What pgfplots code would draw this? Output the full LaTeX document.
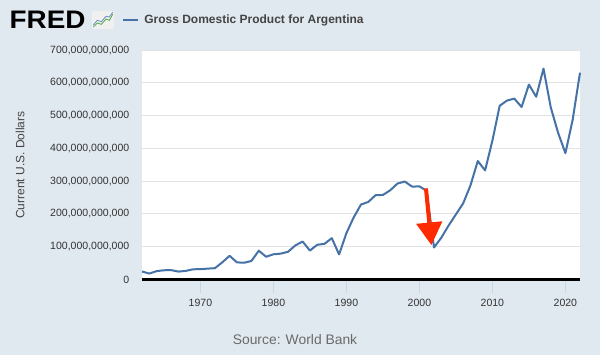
\documentclass[border=0pt]{standalone}
\usepackage{fontspec}
\setmainfont{Liberation Sans}
\usepackage{pgfplots}
\pgfplotsset{compat=1.18}
\usetikzlibrary{arrows.meta}
\definecolor{bgc}{HTML}{E1E9F0}
\definecolor{fredblue}{HTML}{4572A7}
\definecolor{gridc}{HTML}{E3E3E3}
\definecolor{ticklb}{HTML}{C8D6E6}
\definecolor{tickgray}{HTML}{333333}
\definecolor{titlegray}{HTML}{444444}
\definecolor{srcgray}{HTML}{6A6A6A}
\definecolor{arrowred}{HTML}{FF2A00}
\begin{document}
\begin{tikzpicture}
\useasboundingbox (0,0) rectangle (450pt,266.25pt);
\fill[bgc] (0,0) rectangle (450pt,266.25pt);
% FRED logo
\node[anchor=west, inner sep=0pt, xscale=1.1] at (7pt,251.25pt) {\fontsize{19}{19}\selectfont\bfseries FRED};
\fill[white!88!gray, rounded corners=1.5pt] (69pt,244.5pt) rectangle (85.5pt,258pt);
\draw[green!50!black!70, line width=0.6pt] (70pt,246pt) -- (73pt,249pt) -- (76pt,248pt) -- (79.5pt,252pt) -- (82pt,251pt) -- (84.5pt,255.5pt);
\draw[fredblue!80, line width=0.6pt] (70pt,247.5pt) -- (73pt,251pt) -- (76pt,250pt) -- (79.5pt,254pt) -- (82pt,253.5pt) -- (84.5pt,257pt);
% legend
\draw[fredblue, line width=1.5pt] (92.25pt,251.25pt) -- (103.5pt,251.25pt);
\node[anchor=west, inner sep=0pt, text=titlegray] at (108pt,251.25pt) {\fontsize{9}{10}\selectfont\bfseries Gross Domestic Product for Argentina};
% y label
\node[rotate=90, text=titlegray, inner sep=0pt] at (15pt,142.5pt) {\fontsize{9}{10}\selectfont Current U.S. Dollars};
% source
\node[text=srcgray, inner sep=0pt] at (221.25pt,11.25pt) {\fontsize{10.4}{12}\selectfont Source: World Bank};
\begin{axis}[
  at={(106.5pt,56.6pt)}, anchor=south west,
  scale only axis, width=328.5pt, height=172.1pt,
  xmin=1962, xmax=2022, ymin=0, ymax=700,
  axis background/.style={fill=white},
  axis line style={draw=none},
  /pgf/number format/assume math mode=true,
  xtick={1970,1980,1990,2000,2010,2020},
  ytick={0,100,200,300,400,500,600,700},
  yticklabels={0,{100,000,000,000},{200,000,000,000},{300,000,000,000},{400,000,000,000},{500,000,000,000},{600,000,000,000},{700,000,000,000}},
  xticklabel style={/pgf/number format/1000 sep={}, font=\fontsize{7.9}{9}\selectfont, text=tickgray, yshift=-1.5pt},
  yticklabel style={font=\fontsize{7.9}{9}\selectfont, text=tickgray, xshift=-6pt},
  xtick pos=bottom, ytick pos=left,
  xtick align=outside, major tick length=10pt,
  x tick style={color=ticklb, line width=0.75pt},
  y tick style={draw=none},
  ymajorgrids, grid style={gridc, line width=0.75pt},
  clip=false,
]
\addplot[color=fredblue, line width=1.5pt, line join=round, mark=none] table[x=year, y=gdp] {
year gdp
1962 24.5
1963 18.3
1964 25.6
1965 28.3
1966 28.6
1967 24.3
1968 26.4
1969 31.3
1970 31.6
1971 33.3
1972 34.7
1973 52.5
1974 72.4
1975 52.4
1976 51.2
1977 56.8
1978 88.0
1979 69.5
1980 77.0
1981 79.0
1982 84.5
1983 104.0
1984 116.0
1985 88.4
1986 106.0
1987 109.0
1988 126.2
1989 76.6
1990 141.4
1991 189.7
1992 228.8
1993 236.7
1994 257.4
1995 258.0
1996 272.2
1997 292.9
1998 298.9
1999 283.5
2000 284.2
2001 270.7
2002 97.7
2003 127.6
2004 164.7
2005 198.7
2006 232.6
2007 287.5
2008 361.6
2009 332.9
2010 423.6
2011 530.2
2012 546.0
2013 552.0
2014 526.3
2015 594.7
2016 557.5
2017 643.6
2018 524.8
2019 447.8
2020 385.5
2021 487.9
2022 631.1
};
\draw[black, line width=1.6pt] (rel axis cs:0,0) -- (rel axis cs:1,0);
\draw[arrowred, line width=3pt, -{Triangle[width=19pt,length=17pt]}] (axis cs:2000.9,278) -- (axis cs:2001.65,105);
\end{axis}
\end{tikzpicture}
\end{document}
